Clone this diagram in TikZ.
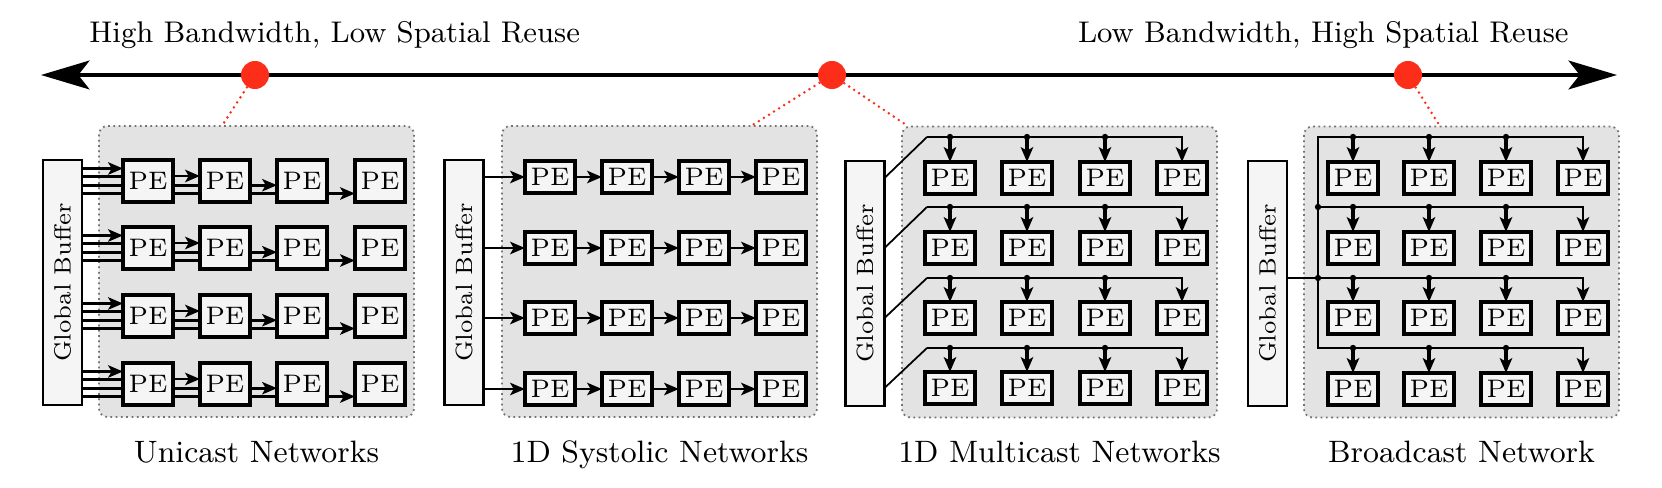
\documentclass[tikz,border=0pt]{standalone}
\usetikzlibrary{arrows.meta}
\definecolor{dotred}{RGB}{252,46,26}

\begin{document}
\begin{tikzpicture}[x=0.01cm,y=-0.01cm,
  pe/.style={draw,line width=0.9pt,fill=black!4,inner sep=0,outer sep=0,minimum width=5mm,minimum height=3.2mm,font=\fontsize{7.2}{8}\selectfont},
  gbuf/.style={draw,line width=0.6pt,fill=black!4,inner sep=0,outer sep=0,minimum width=3.9mm,minimum height=24.4mm,font=\fontsize{6.7}{8}\selectfont},
  panel/.style={draw=black!55,densely dotted,line width=0.5pt,fill=black!11,rounded corners=2.5pt,minimum width=31.5mm,minimum height=29.1mm},
  wire/.style={line width=0.8pt},
  arr/.style={line width=0.8pt,-{Stealth[length=4.2pt,width=3.5pt,inset=1pt]}},
  bus/.style={line width=0.85pt},
  feed/.style={line width=0.5pt},
  reddot/.style={circle,fill=dotred,inner sep=0,minimum size=2.8mm},
  link/.style={dotred,line width=0.8pt,line cap=round,dash pattern=on 0pt off 1.7pt},
  caption/.style={anchor=base,font=\fontsize{8.8}{10}\selectfont}]
\useasboundingbox (0,0) rectangle (1662,488);

\node[panel] (pU) at (256.5,271.5) {};
\node[panel] (pS) at (659.5,271.5) {};
\node[panel] (pM) at (1059.5,272) {};
\node[panel] (pB) at (1461.5,272) {};

\node[gbuf] (gU) at (62.5,282.5) {\rotatebox{90}{Global Buffer}};
\node[gbuf] (gS) at (464,282.5) {\rotatebox{90}{Global Buffer}};
\node[gbuf] (gM) at (865,283.5) {\rotatebox{90}{Global Buffer}};
\node[gbuf] (gB) at (1267.5,283.5) {\rotatebox{90}{Global Buffer}};

% unicast
\foreach \r/\y in {1/181,2/248,3/316,4/384}{
  \node[pe,minimum height=4.2mm] (u\r1) at (148,\y) {PE};
  \node[pe,minimum height=4.2mm] (u\r2) at (225,\y) {PE};
  \node[pe,minimum height=4.2mm] (u\r3) at (302,\y) {PE};
  \node[pe,minimum height=4.2mm] (u\r4) at (380,\y) {PE};
  \draw[arr] ([yshift=1.25mm]u\r1.west -| gU.east) -- ([yshift=1.25mm]u\r1.west);
  \draw[wire] ([yshift=.42mm]u\r1.west -| gU.east) -- ([yshift=.42mm]u\r1.west);
  \draw[wire] ([yshift=-.42mm]u\r1.west -| gU.east) -- ([yshift=-.42mm]u\r1.west);
  \draw[wire] ([yshift=-1.25mm]u\r1.west -| gU.east) -- ([yshift=-1.25mm]u\r1.west);
  \draw[arr] ([yshift=.5mm]u\r1.east) -- ([yshift=.5mm]u\r2.west);
  \draw[wire] ([yshift=-.42mm]u\r1.east) -- ([yshift=-.42mm]u\r2.west);
  \draw[wire] ([yshift=-1.25mm]u\r1.east) -- ([yshift=-1.25mm]u\r2.west);
  \draw[arr] ([yshift=-.42mm]u\r2.east) -- ([yshift=-.42mm]u\r3.west);
  \draw[wire] ([yshift=-1.25mm]u\r2.east) -- ([yshift=-1.25mm]u\r3.west);
  \draw[arr] ([yshift=-1.25mm]u\r3.east) -- ([yshift=-1.25mm]u\r4.west);
}

% systolic
\foreach \r/\y in {1/177,2/248,3/318,4/389}{
  \node[pe] (s\r1) at (550,\y) {PE};
  \node[pe] (s\r2) at (627,\y) {PE};
  \node[pe] (s\r3) at (704,\y) {PE};
  \node[pe] (s\r4) at (781,\y) {PE};
  \draw[arr] (s\r1 -| gS.east) -- (s\r1);
  \draw[arr] (s\r1) -- (s\r2);
  \draw[arr] (s\r2) -- (s\r3);
  \draw[arr] (s\r3) -- (s\r4);
}

% multicast
\foreach \r/\y/\b in {1/178/137,2/248/207,3/318/278,4/388/348}{
  \node[pe] (m\r1) at (950,\y) {PE};
  \node[pe] (m\r2) at (1027,\y) {PE};
  \node[pe] (m\r3) at (1105,\y) {PE};
  \node[pe] (m\r4) at (1182,\y) {PE};
  \coordinate (mb\r) at (927,\b);
  \draw[feed] (m\r1 -| gM.east) -- (mb\r);
  \draw[arr,line width=0.85pt] (mb\r) -| (m\r4.north);
  \foreach \c in {1,2,3}{
    \fill (m\r\c |- mb\r) circle (0.9pt);
    \draw[arr,line width=0.9pt] (m\r\c |- mb\r) -- (m\r\c.north);
  }
}

% broadcast
\foreach \r/\y/\b in {1/178/137,2/248/207,3/318/278,4/389/348}{
  \node[pe] (b\r1) at (1353,\y) {PE};
  \node[pe] (b\r2) at (1429,\y) {PE};
  \node[pe] (b\r3) at (1506,\y) {PE};
  \node[pe] (b\r4) at (1583,\y) {PE};
  \coordinate (bb\r) at (1318,\b);
  \draw[arr,line width=0.85pt] (bb\r) -| (b\r4.north);
  \foreach \c in {1,2,3}{
    \fill (b\r\c |- bb\r) circle (0.9pt);
    \draw[arr,line width=0.9pt] (b\r\c |- bb\r) -- (b\r\c.north);
  }
}
\draw[bus,line cap=rect] (bb1) -- (bb4);
\draw[feed] (gB.east |- bb3) -- (bb3);
\fill (bb2) circle (0.9pt);
\fill (bb3) circle (0.9pt);

% spectrum
\coordinate (axL) at (41,75);
\coordinate (axR) at (1617,75);
\draw[line width=0.9pt,{Stealth[length=13.8pt,width=8.2pt,inset=3.2pt]}-{Stealth[length=13.8pt,width=8.2pt,inset=3.2pt]}] (axL) -- (axR);
\node[anchor=base west,font=\fontsize{8.5}{10}\selectfont] (hiBW) at (77,43) {High Bandwidth, Low Spatial Reuse};
\node[anchor=base east,font=\fontsize{8.5}{10}\selectfont] (loBW) at (1581,43) {Low Bandwidth, High Spatial Reuse};

\node[reddot] (d1) at (255,75) {};
\node[reddot] (d2) at (832,75) {};
\node[reddot] (d3) at (1408,75) {};
\draw[link] (d1) -- ([xshift=-3.4mm]pU.north);
\draw[link] (d2) -- ([xshift=9.3mm]pS.north);
\draw[link] (d2) -- ([xshift=0.6mm]pM.north west);
\draw[link] (d3) -- ([xshift=-2.2mm]pB.north);

\node[caption] (cU) at (256.5,463) {Unicast Networks};
\node[caption] (cS) at (659.5,463) {1D Systolic Networks};
\node[caption] (cM) at (1059.5,463) {1D Multicast Networks};
\node[caption] (cB) at (1461.5,463) {Broadcast Network};
\end{tikzpicture}
\end{document}
